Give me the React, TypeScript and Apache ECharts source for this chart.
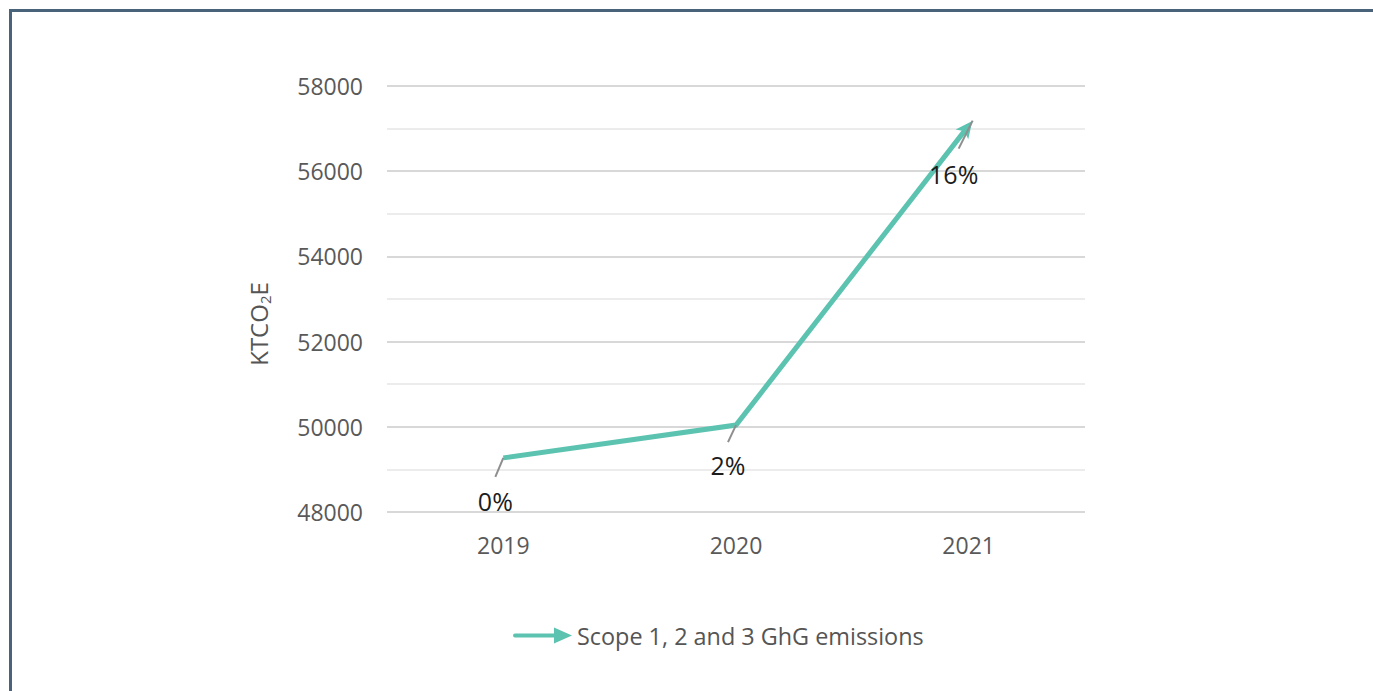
import React, { useEffect, useRef } from "react";
import * as echarts from "echarts";

// Emissions per year (ktCO2e), with the arrow marking the trend toward the latest year
const years = ["2019", "2020", "2021"];
const emissions = [49270, 50040, 57070];
const seriesName = "Scope 1, 2 and 3 GhG emissions";
const yMin = 48000;
const yMax = 58000;
const yStep = 2000;

// Change against the first year, shown beside each point
const changeLabels = emissions.map(
  (v) => `${Math.round((v / emissions[0] - 1) * 100)}%`
);

// Leader line start / end and label centre, relative to each point (px)
const leaderStyle = [
  { sx: 0, sy: 0, ex: -8, ey: 19, lx: -8, ly: 43 },
  { sx: 0, sy: 0, ex: -8, ey: 17, lx: -8, ly: 40 },
  { sx: 4, sy: -5, ex: -10, ey: 23, lx: -15, ly: 48 },
];

const FONT = '"Open Sans", "Noto Sans", sans-serif';
const TEAL = "#5cc3b1";
const HEAD_LEN = 17;
const HEAD_HALF = 8;
const HEAD_NOTCH = 13;
const TIP_OVERSHOOT = 6;

export default function App() {
  const ref = useRef<HTMLDivElement>(null);

  useEffect(() => {
    if (!ref.current) return;
    const chart = echarts.init(ref.current, null, { renderer: "svg" });
    const last = emissions.length - 1;

    chart.setOption({
      animation: false,
      textStyle: { fontFamily: FONT },
      grid: { left: 387, right: 288, top: 86, bottom: 179, containLabel: false },
      legend: {
        show: true,
        left: 508,
        top: 619,
        itemWidth: 59,
        itemHeight: 16,
        textStyle: { fontFamily: FONT, fontSize: 23.4, color: "#555555" },
        data: [
          {
            name: seriesName,
            icon: "path://M2,6 L41,6 L41,0 L59,8 L41,16 L41,10 L2,10 Q0,10 0,8 Q0,6 2,6 Z",
            itemStyle: { color: TEAL },
          },
        ],
      },
      graphic: [
        {
          type: "text",
          x: 258,
          y: 324,
          rotation: Math.PI / 2,
          silent: true,
          style: {
            text: "{m|KTCO}{s|2}{m|E}",
            align: "center",
            verticalAlign: "middle",
            rich: {
              m: { fontSize: 24, fill: "#555555", fontFamily: FONT, lineHeight: 28 },
              s: { fontSize: 15, fill: "#555555", fontFamily: FONT, verticalAlign: "bottom", lineHeight: 16 },
            },
          },
        },
      ],
      xAxis: {
        type: "category",
        data: years,
        boundaryGap: true,
        axisLine: { show: false },
        axisTick: { show: false },
        axisLabel: { margin: 21, fontSize: 23, color: "#595959", fontFamily: FONT },
        splitLine: { show: false },
      },
      yAxis: {
        type: "value",
        min: yMin,
        max: yMax,
        interval: yStep,
        axisLine: { show: false },
        axisTick: { show: false },
        axisLabel: {
          margin: 24,
          fontSize: 23,
          color: "#595959",
          fontFamily: FONT,
          formatter: (v: number) => String(v),
        },
        splitLine: { show: true, lineStyle: { color: "#cbcbcb", width: 1.5 } },
        minorTick: { show: false, splitNumber: 2 },
        minorSplitLine: { show: true, lineStyle: { color: "#e6e6e6", width: 1.5 } },
      },
      series: [
        {
          name: seriesName,
          type: "line",
          data: emissions,
          showSymbol: false,
          symbol: "none",
          lineStyle: { color: TEAL, width: 5, cap: "butt", join: "miter" },
          itemStyle: { color: TEAL },
          emphasis: { disabled: true },
          z: 2,
        },
        {
          type: "custom",
          name: "labels",
          data: emissions.map((v, i) => [i, v]),
          z: 3,
          silent: true,
          renderItem: (params: any, api: any) => {
            const i = params.dataIndex;
            const p = api.coord([api.value(0), api.value(1)]);
            const s = leaderStyle[i];
            const children: any[] = [];

            // Arrowhead on the final point, aligned with the last segment
            if (i === last) {
              const a = api.coord([i - 1, emissions[i - 1]]);
              const dx = p[0] - a[0];
              const dy = p[1] - a[1];
              const len = Math.hypot(dx, dy) || 1;
              const ux = dx / len;
              const uy = dy / len;
              const nx = -uy;
              const ny = ux;
              const tx = p[0] + ux * TIP_OVERSHOOT;
              const ty = p[1] + uy * TIP_OVERSHOOT;
              const bx = tx - ux * HEAD_LEN;
              const by = ty - uy * HEAD_LEN;
              const mx = tx - ux * HEAD_NOTCH;
              const my = ty - uy * HEAD_NOTCH;
              children.push({
                type: "polygon",
                shape: {
                  points: [
                    [tx, ty],
                    [bx + nx * HEAD_HALF, by + ny * HEAD_HALF],
                    [mx, my],
                    [bx - nx * HEAD_HALF, by - ny * HEAD_HALF],
                  ],
                },
                style: { fill: TEAL },
              });
            }

            children.push({
              type: "line",
              shape: { x1: p[0] + s.sx, y1: p[1] + s.sy, x2: p[0] + s.ex, y2: p[1] + s.ey },
              style: { stroke: "#8e8e8e", lineWidth: 2 },
            });
            children.push({
              type: "text",
              x: p[0] + s.lx,
              y: p[1] + s.ly,
              style: {
                text: changeLabels[i],
                fill: "#1c1c1c",
                fontSize: 25,
                fontFamily: FONT,
                align: "center",
                verticalAlign: "middle",
              },
            });
            return { type: "group", children };
          },
        },
      ],
    });

    return () => chart.dispose();
  }, []);

  return (
    <div
      style={{
        position: "absolute",
        left: 0,
        top: 0,
        width: 1373,
        height: 691,
        background: "#ffffff",
        overflow: "hidden",
      }}
    >
      <div
        style={{
          position: "absolute",
          left: 9,
          top: 9,
          width: 1400,
          height: 720,
          borderLeft: "3px solid #48637a",
          borderTop: "3px solid #48637a",
        }}
      />
      <div ref={ref} style={{ position: "absolute", left: 0, top: 0, width: 1373, height: 691 }} />
    </div>
  );
}
